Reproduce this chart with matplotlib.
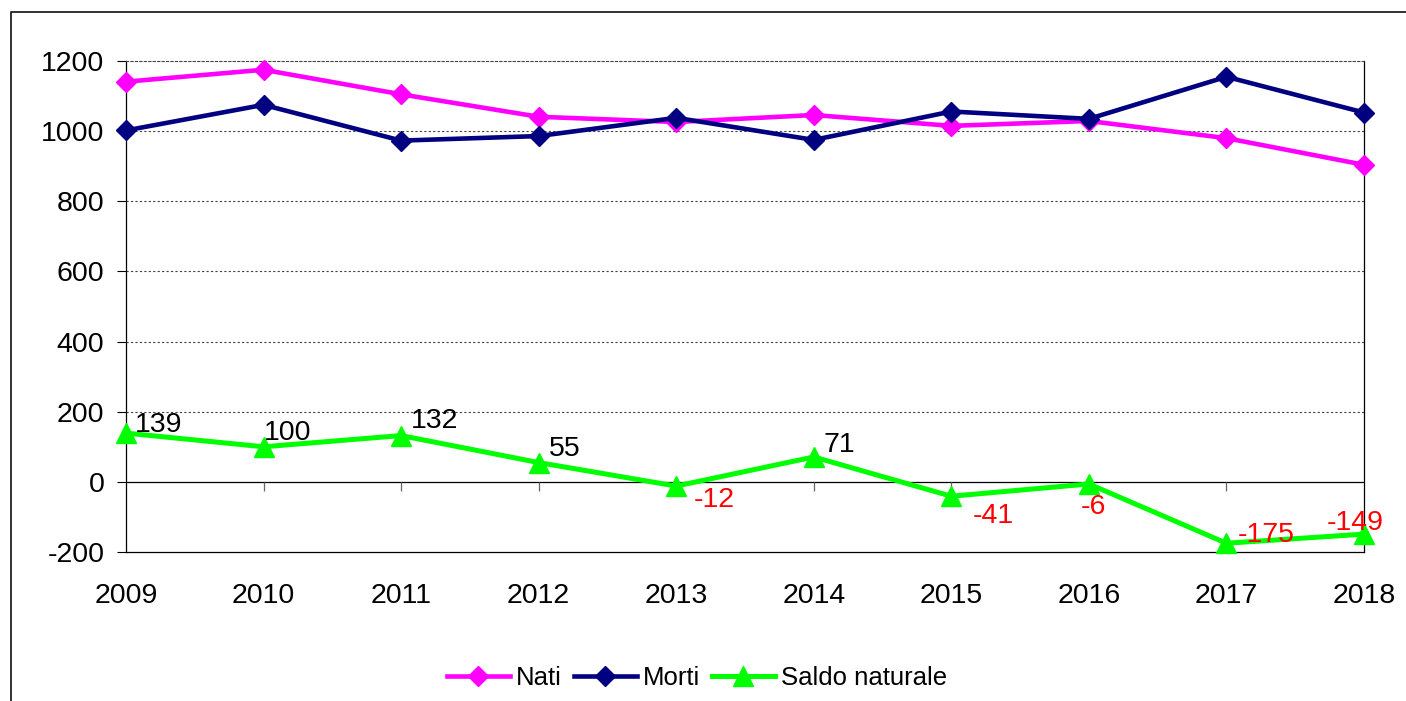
import matplotlib.pyplot as plt
from matplotlib.lines import Line2D

years = ["2009", "2010", "2011", "2012", "2013", "2014", "2015", "2016", "2017", "2018"]
nati = [1141, 1175, 1105, 1041, 1026, 1046, 1015, 1029, 980, 904]
morti = [1002, 1075, 973, 986, 1038, 975, 1056, 1035, 1155, 1053]
saldo = [139, 100, 132, 55, -12, 71, -41, -6, -175, -149]

# label offsets in pixels (dx, dy) relative to each point
label_off = [(9, 1), (0, 7), (10, 8), (10, 7), (18, -21), (10, 5),
             (21, -27), (-8, -30), (11, 1), (-37, 4)]

plt.rcParams['font.family'] = ['Liberation Sans', 'DejaVu Sans']
plt.rcParams['axes.unicode_minus'] = False
FS = 20.5

fig = plt.figure(figsize=(14.06, 7.01), dpi=100)
ax = fig.add_axes([126 / 1406, 1 - 552 / 701, (1364 - 126) / 1406, (552 - 61) / 701])

x = list(range(len(years)))
ax.plot(x, nati, color="#FF00FF", lw=3.3, marker="D", ms=10, label="Nati", clip_on=False, zorder=3)
ax.plot(x, morti, color="#000080", lw=3.3, marker="D", ms=10, label="Morti", clip_on=False, zorder=3)
ax.plot(x, saldo, color="#00FF00", lw=3.6, marker="^", ms=14, label="Saldo naturale", clip_on=False, zorder=3)

for i, v in enumerate(saldo):
    dx, dy = label_off[i]
    ax.annotate(str(v), (i, v), xytext=(dx * 0.72, dy * 0.72), textcoords="offset points",
                ha="left", va="baseline", fontsize=FS,
                color="black" if v >= 0 else "red", zorder=4)

ax.set_xlim(0, 9)
ax.set_ylim(-200, 1200)
ax.set_yticks(range(-200, 1201, 200))
ax.set_xticks(x)
ax.set_xticklabels(years)
ax.tick_params(axis="y", length=6.5, width=0.8, pad=9, labelsize=FS)
ax.tick_params(axis="x", length=0, pad=22, labelsize=FS)

for y in range(200, 1200, 200):
    ax.axhline(y, color="#444444", lw=0.8, ls=(0, (2, 2)), zorder=1)
ax.spines["top"].set_linestyle((0, (2, 2)))
ax.spines["top"].set_color("#444444")
ax.spines["top"].set_linewidth(0.8)
for s in ["left", "right", "bottom"]:
    ax.spines[s].set_color("black")
    ax.spines[s].set_linewidth(0.9)

# zero line with category ticks
ax.axhline(0, color="black", lw=0.9, zorder=2)
ax.vlines(x[1:-1], -25, 0, color="#666666", lw=0.9, zorder=2)

fig.legend(loc="center", bbox_to_anchor=(697 / 1406, 1 - 678 / 701), ncol=3, frameon=False,
           fontsize=18.5, handlelength=2.45, handletextpad=0.23, columnspacing=0.47)

# chart frame (top and left edges visible)
fig.add_artist(Line2D([11 / 1406, 11 / 1406, 1], [0, 1 - 12 / 701, 1 - 12 / 701],
                      color="#222222", lw=1.3, transform=fig.transFigure))

fig.savefig("out.png", dpi=100)
